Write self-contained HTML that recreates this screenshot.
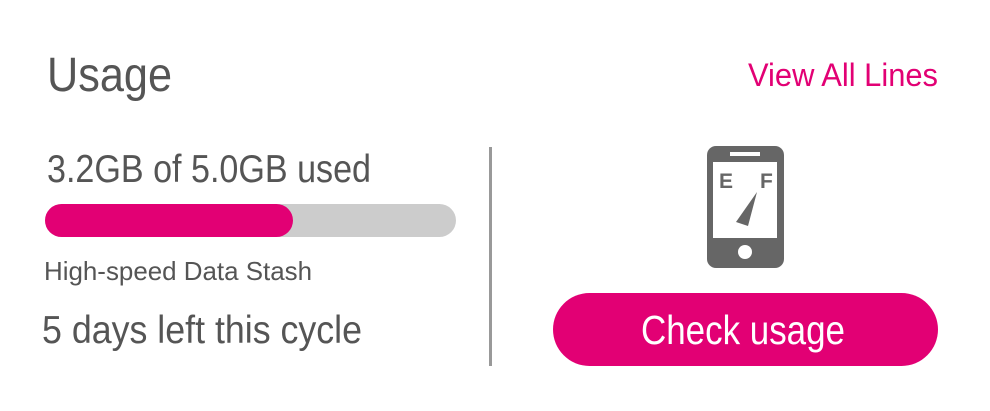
<!DOCTYPE html>
<html><head><meta charset="utf-8"><style>
html,body{margin:0;padding:0;background:#fff;width:990px;height:411px;overflow:hidden}
svg{display:block}
text{font-family:"Liberation Sans Narrow","Liberation Sans",sans-serif}
</style></head><body>
<svg width="990" height="411" viewBox="0 0 990 411">
<text x="47" y="91" font-size="48" fill="#555" textLength="125" lengthAdjust="spacingAndGlyphs">Usage</text>
<text x="748" y="86" font-size="32" fill="#e20074" textLength="190" lengthAdjust="spacingAndGlyphs">View All Lines</text>
<text x="47" y="182" font-size="39" fill="#555" textLength="324" lengthAdjust="spacingAndGlyphs">3.2GB of 5.0GB used</text>
<rect x="45" y="204" width="411" height="33" rx="16.5" fill="#cccccc"/>
<rect x="45" y="204" width="248" height="33" rx="16.5" fill="#e20074"/>
<text x="44" y="280" font-size="26" fill="#555" textLength="268" lengthAdjust="spacingAndGlyphs">High-speed Data Stash</text>
<text x="42" y="343" font-size="39" fill="#555" textLength="320" lengthAdjust="spacingAndGlyphs">5 days left this cycle</text>
<rect x="489" y="147" width="3" height="219" fill="#999"/>
<g>
<rect x="707" y="146" width="77" height="122" rx="9" fill="#666"/>
<rect x="713" y="162" width="64" height="76" fill="#fff"/>
<rect x="730" y="152" width="30" height="4" fill="#fff"/>
<circle cx="745" cy="252" r="7" fill="#fff"/>
<text x="719" y="188" font-size="21" font-weight="bold" fill="#666" font-family="Liberation Sans,sans-serif">E</text>
<text x="760" y="188" font-size="21" font-weight="bold" fill="#666" font-family="Liberation Sans,sans-serif">F</text>
<polygon points="757,192 736,222 748,226" fill="#666"/>
</g>
<rect x="553" y="293" width="385" height="73" rx="36.5" fill="#e20074"/>
<text x="641" y="344" font-size="41" fill="#fff" textLength="204" lengthAdjust="spacingAndGlyphs">Check usage</text>
</svg>
</body></html>
